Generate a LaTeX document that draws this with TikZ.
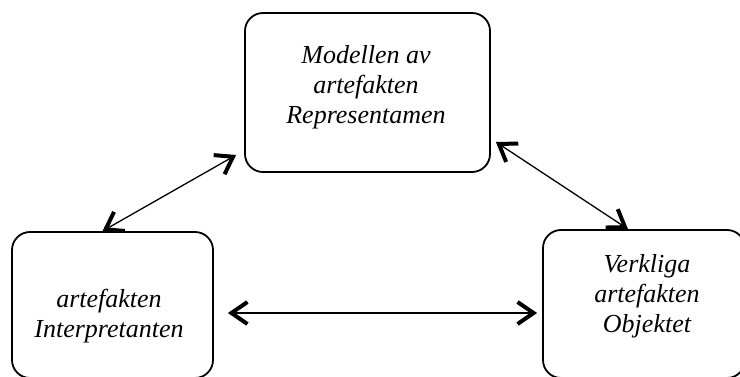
\documentclass[tikz,border=0pt]{standalone}
\usepackage{fontspec}
\setmainfont{Liberation Serif}
\usetikzlibrary{arrows.meta}
\tikzset{
  box/.style={draw, line width=1.8pt, rounded corners=18pt},
  txt/.style={align=center, font=\fontsize{26}{30}\selectfont\itshape},
  link/.style={line width=1.3pt, {Straight Barb[length=16pt,width=22pt,line width=4pt]}-{Straight Barb[length=16pt,width=22pt,line width=4pt]}}
}
\begin{document}
\begin{tikzpicture}[x=1pt,y=-1pt]
    \useasboundingbox (0,0) rectangle (740,377);

    \path (367.5,92.5) node[box, minimum width=245pt, minimum height=159pt] (model) {};
    \path (112.5,305) node[box, minimum width=201pt, minimum height=146pt] (inter) {};
    \path (644,304) node[box, minimum width=202pt, minimum height=148pt] (obj) {};

    \path (366,87) node[txt] (modelText) {Modellen av\\artefakten\\Representamen};
    \path (109,316) node[txt] (interText) {artefakten\\Interpretanten};
    \path (647,296) node[txt] (objText) {Verkliga\\artefakten\\Objektet};

    \draw[link] ([shift={(-8,62.5)}]model.west) -- ([xshift=-10pt]inter.north);
    \draw[link] ([shift={(5,49.5)}]model.east) -- ([xshift=-16pt]obj.north);
    \draw[link] ([shift={(14,8)}]inter.east) -- ([shift={(-5,9)}]obj.west);
  \end{tikzpicture}
\end{document}
